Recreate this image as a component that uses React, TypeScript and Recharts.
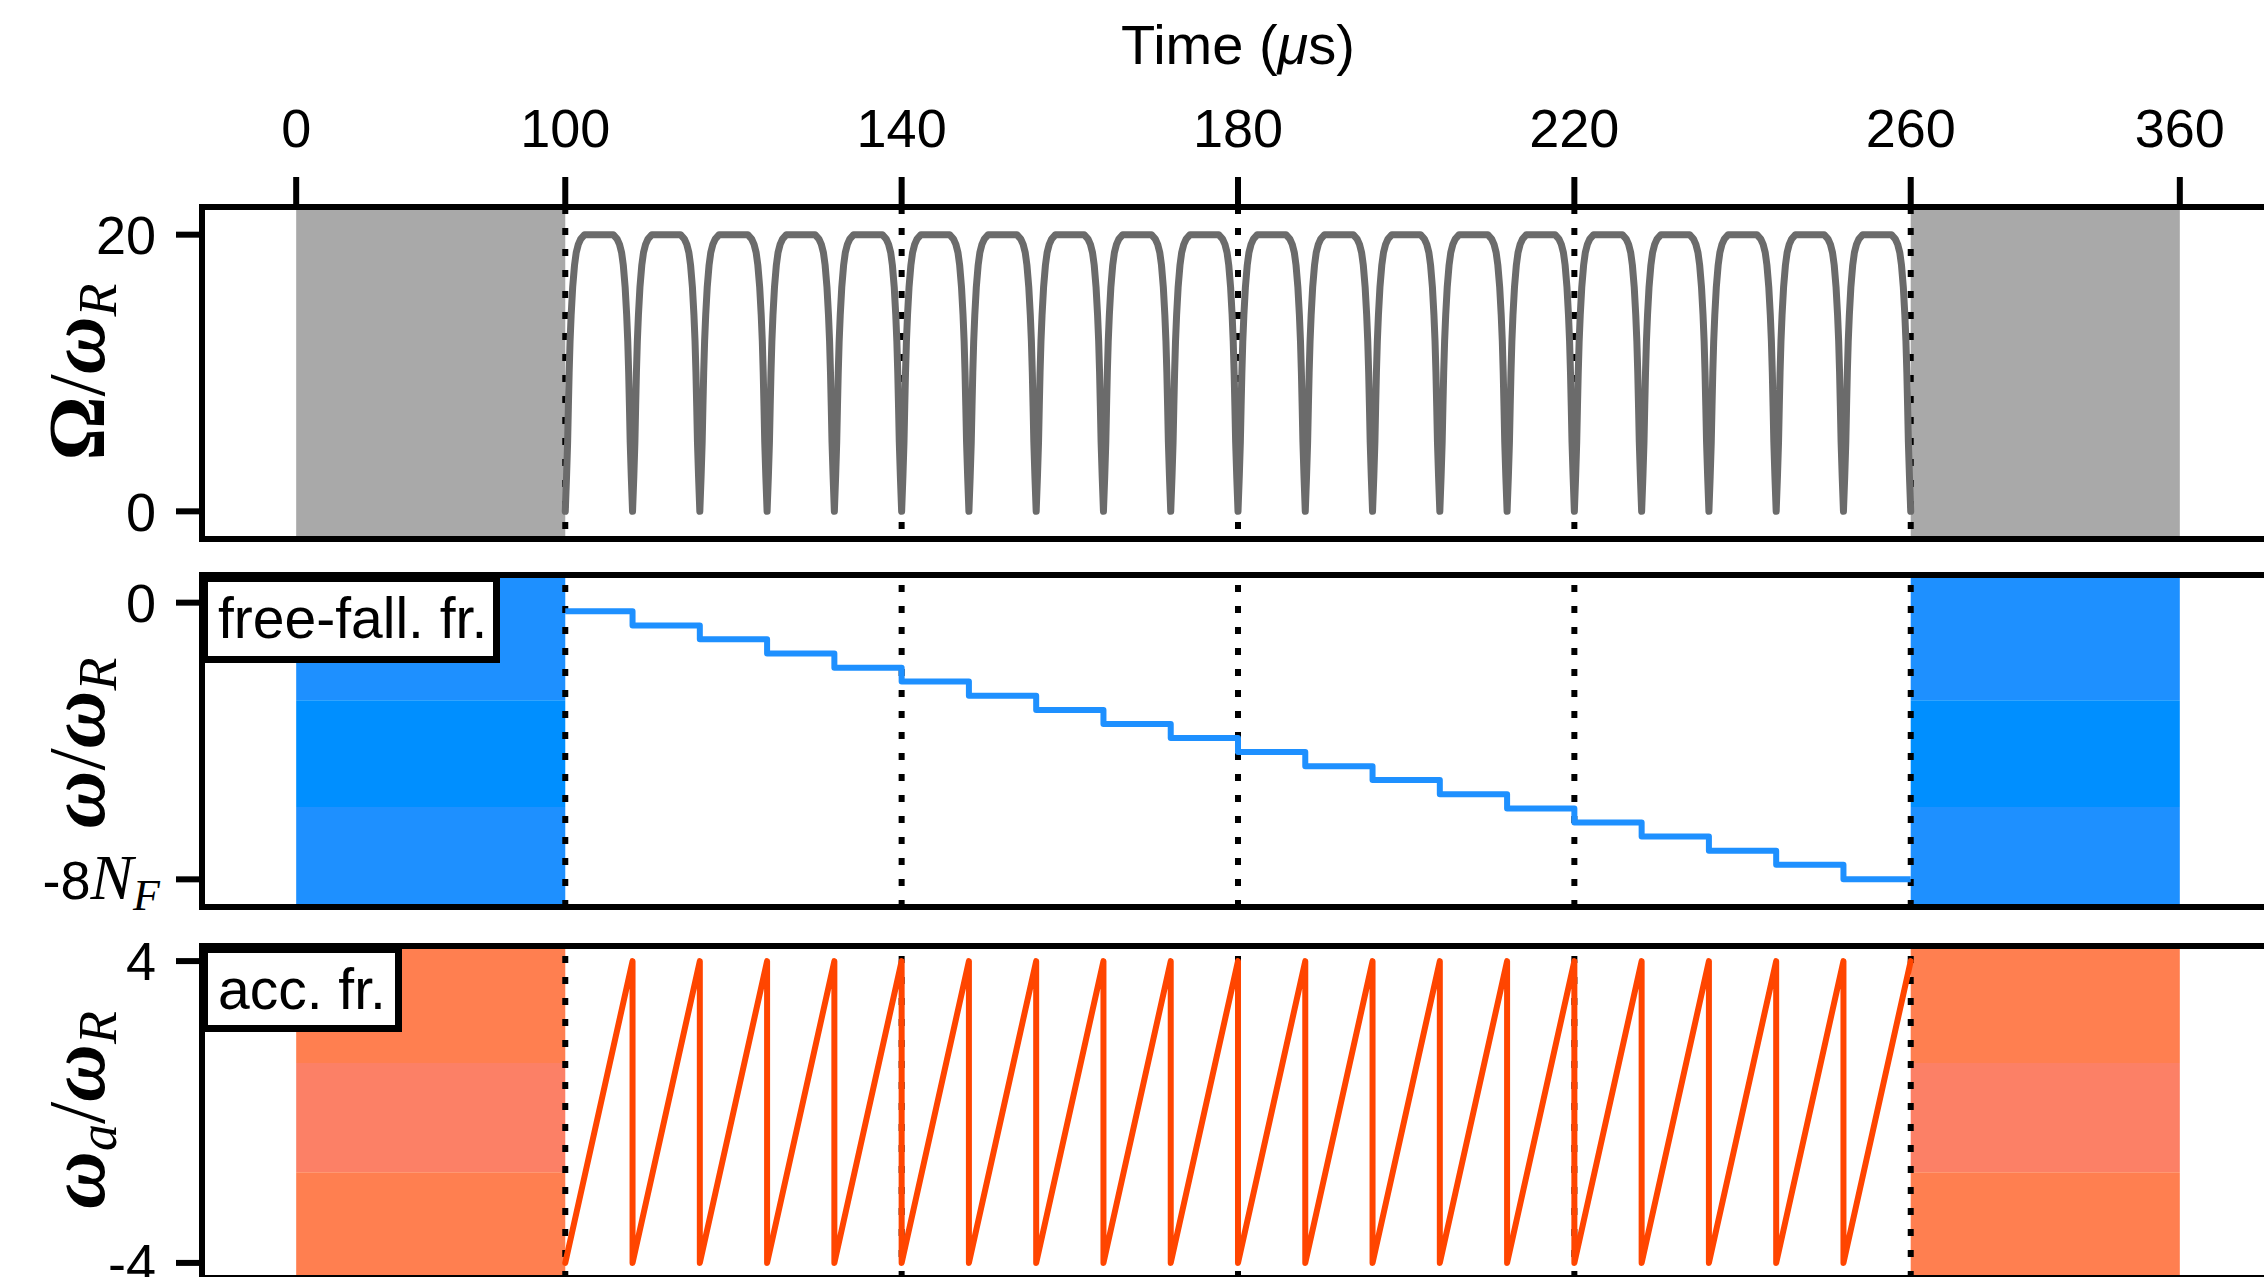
import React from 'react';
import { LineChart, Line, XAxis, YAxis, ReferenceArea, ReferenceLine } from 'recharts';

// ---- values ----
const timeTicks = [0, 100, 140, 180, 220, 260, 360]; // μs
const markerTimes = [100, 140, 180, 220, 260];
const prepWindow = [0, 100];
const readWindow = [260, 360];

// one pulse / kick every 8 μs
const kickTimes = [100, 108, 116, 124, 132, 140, 148, 156, 164, 172, 180, 188, 196, 204, 212, 220, 228, 236, 244, 252];
const kickPeriod = 8;

// shape of one Rabi pulse (offset in μs from its start -> Ω/ω_R)
const pulseOffsets = [0, 0.15, 0.28, 0.37, 0.46, 0.57, 0.7, 0.88, 1.1, 1.3, 1.55, 1.85, 2.3, 5.7, 6.15, 6.45, 6.7, 6.9, 7.12, 7.3, 7.43, 7.54, 7.63, 7.72, 7.85, 8];
const pulseValues = [0, 2.5, 5, 7.6, 10, 12.3, 14.2, 16.2, 17.8, 18.7, 19.3, 19.7, 20, 20, 19.7, 19.3, 18.7, 17.8, 16.2, 14.2, 12.3, 10, 7.6, 5, 2.5, 0];

// ω/ω_R (free-fall frame), one level per kick interval
const stepLevels = [-0.25, -0.66, -1.06, -1.47, -1.88, -2.28, -2.69, -3.1, -3.51, -3.91, -4.32, -4.73, -5.13, -5.54, -5.95, -6.36, -6.76, -7.17, -7.58, -8.0];

// ω_a/ω_R (accelerated frame): ramp from low to high each interval
const rampRange = [-4, 4];

// ---- compressed time axis: shaded windows are drawn at 0.32 scale ----
const SQUEEZE = 0.32;
const toAxis = (t: number) => {
  if (t <= 100) return t * SQUEEZE;
  if (t <= 260) return 100 * SQUEEZE + (t - 100);
  return 100 * SQUEEZE + 160 + (t - 260) * SQUEEZE;
};
const X_DOMAIN: [number, number] = [-11.2, 235.2];
const tickPos = timeTicks.map(toAxis);

const pulseData = kickTimes.flatMap((s) =>
  pulseOffsets.map((o, i) => ({ x: toAxis(s + o), y: pulseValues[i] }))
);
const stepData = [
  ...kickTimes.map((s, i) => ({ x: toAxis(s), y: stepLevels[i] })),
  { x: toAxis(kickTimes[kickTimes.length - 1] + kickPeriod), y: stepLevels[stepLevels.length - 1] },
];
const rampData = kickTimes.flatMap((s) => [
  { x: toAxis(s), y: rampRange[0] },
  { x: toAxis(s + kickPeriod), y: rampRange[1] },
]);

const SANS = 'Liberation Sans, Arial, sans-serif';
const SERIF = 'Liberation Serif, Times New Roman, serif';
const FS = 54;
const CHART_W = 2300;
const MARGIN_R = 26;
const PAD = 50; // room above/below each plot for tick text

const yAxisProps = {
  type: 'number' as const,
  width: 202,
  axisLine: false,
  tickLine: { stroke: '#000', strokeWidth: 6 },
  tickSize: 26,
  tickMargin: 20,
  tick: { fill: '#000', fontSize: FS, fontFamily: SANS },
  allowDataOverflow: true,
  interval: 0 as const,
};

function markers() {
  return markerTimes.map((t) => (
    <ReferenceLine key={t} x={toAxis(t)} stroke="#000" strokeWidth={6} strokeDasharray="7 14" />
  ));
}

function frame(yd: [number, number]) {
  return (
    <ReferenceArea x1={X_DOMAIN[0]} x2={X_DOMAIN[1]} y1={yd[0]} y2={yd[1]} fill="none" fillOpacity={0} stroke="#000" strokeWidth={6} />
  );
}

function bands(yd: [number, number], cuts: [number, number], outer: string, inner: string) {
  const out: React.ReactNode[] = [];
  [prepWindow, readWindow].forEach((w, k) => {
    const x1 = toAxis(w[0]);
    const x2 = toAxis(w[1]);
    out.push(<ReferenceArea key={`a${k}`} x1={x1} x2={x2} y1={cuts[0]} y2={yd[1]} fill={outer} fillOpacity={1} stroke="none" />);
    out.push(<ReferenceArea key={`b${k}`} x1={x1} x2={x2} y1={cuts[1]} y2={cuts[0]} fill={inner} fillOpacity={1} stroke="none" />);
    out.push(<ReferenceArea key={`c${k}`} x1={x1} x2={x2} y1={yd[0]} y2={cuts[1]} fill={outer} fillOpacity={1} stroke="none" />);
  });
  return out;
}

const NFTick = (props: any) => {
  const { x, y, payload } = props;
  if (payload.value === 0) {
    return (
      <text x={x} y={y} dy="0.355em" textAnchor="end" fontSize={FS} fontFamily={SANS} fill="#000">0</text>
    );
  }
  return (
    <text x={x + 4} y={y} dy="0.355em" textAnchor="end" fontSize={FS} fontFamily={SANS} fill="#000">
      -8
      <tspan fontFamily={SERIF} fontStyle="italic" fontSize={64}>N</tspan>
      <tspan fontFamily={SERIF} fontStyle="italic" fontSize={44} dy={11}>F</tspan>
    </text>
  );
};

export default function App() {
  const y1: [number, number] = [-2, 22];
  const y2: [number, number] = [-8.8, 0.8];
  const y3: [number, number] = [-4.4, 4.4];

  return (
    <div style={{ position: 'fixed', left: 0, top: 0, width: 2264, height: 1277, overflow: 'hidden', background: '#fff' }}>
      {/* Ω/ω_R */}
      <div style={{ position: 'absolute', left: 0, top: 0 }}>
        <LineChart width={CHART_W} height={539 + PAD} data={pulseData} margin={{ top: 0, right: MARGIN_R, bottom: PAD, left: 0 }}>
          <XAxis
            type="number"
            dataKey="x"
            orientation="top"
            domain={X_DOMAIN}
            ticks={tickPos}
            interval={0}
            allowDataOverflow
            height={207}
            axisLine={false}
            tickLine={{ stroke: '#000', strokeWidth: 6 }}
            tickSize={30}
            tickMargin={30}
            tick={{ fill: '#000', fontSize: FS, fontFamily: SANS }}
            tickFormatter={(v: number) => {
              const i = tickPos.findIndex((p) => Math.abs(p - v) < 1e-6);
              return i >= 0 ? String(timeTicks[i]) : '';
            }}
          />
          <YAxis {...yAxisProps} domain={y1} ticks={[0, 20]} />
          {[prepWindow, readWindow].map((w, k) => (
            <ReferenceArea key={k} x1={toAxis(w[0])} x2={toAxis(w[1])} y1={y1[0]} y2={y1[1]} fill="#A9A9A9" fillOpacity={1} stroke="none" />
          ))}
          {markers()}
          <Line dataKey="y" type="linear" stroke="#6B6B6B" strokeWidth={7} dot={false} strokeLinejoin="round" strokeLinecap="round" isAnimationActive={false} />
          {frame(y1)}
        </LineChart>
      </div>

      {/* ω/ω_R free-fall frame */}
      <div style={{ position: 'absolute', left: 0, top: 575 - PAD }}>
        <LineChart width={CHART_W} height={332 + 2 * PAD} data={stepData} margin={{ top: PAD, right: MARGIN_R, bottom: PAD, left: 0 }}>
          <XAxis type="number" dataKey="x" domain={X_DOMAIN} allowDataOverflow hide />
          <YAxis {...yAxisProps} domain={y2} ticks={[-8, 0]} tick={<NFTick />} />
          {bands(y2, [-2.82, -5.91], '#1E90FF', '#008FFF')}
          {markers()}
          <Line dataKey="y" type="stepAfter" stroke="#1E90FF" strokeWidth={6} dot={false} strokeLinejoin="round" isAnimationActive={false} />
          {frame(y2)}
        </LineChart>
      </div>

      {/* ω_a/ω_R accelerated frame */}
      <div style={{ position: 'absolute', left: 0, top: 946 - PAD }}>
        <LineChart width={CHART_W} height={332 + 2 * PAD} data={rampData} margin={{ top: PAD, right: MARGIN_R, bottom: PAD, left: 0 }}>
          <XAxis type="number" dataKey="x" domain={X_DOMAIN} allowDataOverflow hide />
          <YAxis {...yAxisProps} domain={y3} ticks={[-4, 4]} />
          {bands(y3, [1.3, -1.6], '#FF7F50', '#FC8066')}
          {markers()}
          <Line dataKey="y" type="linear" stroke="#FF4500" strokeWidth={6} dot={false} strokeLinejoin="round" strokeLinecap="round" isAnimationActive={false} />
          {frame(y3)}
        </LineChart>
      </div>

      {/* titles and frame tags */}
      <svg width={2264} height={1277} style={{ position: 'absolute', left: 0, top: 0, pointerEvents: 'none' }}>
        <text x={1238} y={64} textAnchor="middle" fontSize={56} fontFamily={SANS} fill="#000">
          Time (<tspan fontStyle="italic">μ</tspan>s)
        </text>

        <text transform="translate(104,372) rotate(-90)" textAnchor="middle" fontSize={80} fontFamily={SERIF} fill="#000">
          <tspan fontWeight="bold">Ω</tspan>/<tspan fontWeight="bold" fontStyle="italic">ω</tspan>
          <tspan fontStyle="italic" fontSize={54} dy={12}>R</tspan>
        </text>
        <text transform="translate(104,743) rotate(-90)" textAnchor="middle" fontSize={80} fontFamily={SERIF} fill="#000">
          <tspan fontWeight="bold" fontStyle="italic">ω</tspan>/<tspan fontWeight="bold" fontStyle="italic">ω</tspan>
          <tspan fontStyle="italic" fontSize={54} dy={12}>R</tspan>
        </text>
        <text transform="translate(104,1110) rotate(-90)" textAnchor="middle" fontSize={80} fontFamily={SERIF} fill="#000">
          <tspan fontWeight="bold" fontStyle="italic">ω</tspan>
          <tspan fontStyle="italic" fontSize={54} dy={12}>a</tspan>
          <tspan dy={-12}>/</tspan>
          <tspan fontWeight="bold" fontStyle="italic">ω</tspan>
          <tspan fontStyle="italic" fontSize={54} dy={12}>R</tspan>
        </text>

        <rect x={204.5} y={578.5} width={292} height={81} fill="#fff" stroke="#000" strokeWidth={7} />
        <text x={218} y={638} fontSize={57} fontFamily={SANS} fill="#000">free-fall. fr.</text>
        <rect x={204.5} y={949.5} width={194} height={79} fill="#fff" stroke="#000" strokeWidth={7} />
        <text x={218} y={1009} fontSize={57} fontFamily={SANS} fill="#000">acc. fr.</text>
      </svg>
    </div>
  );
}
